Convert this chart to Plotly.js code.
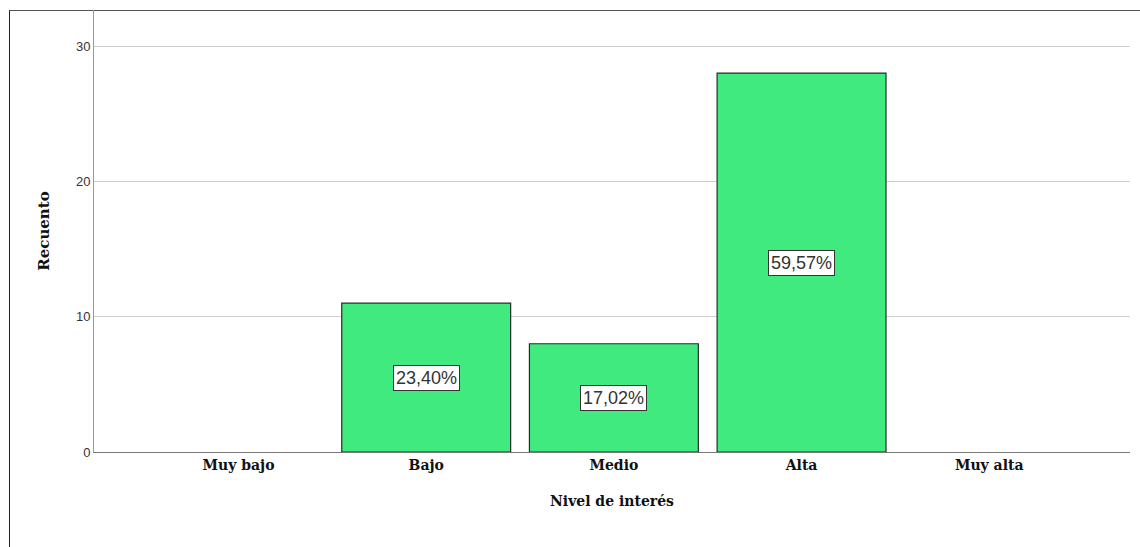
<!DOCTYPE html>
<html>
<head>
<meta charset="utf-8">
<script src="https://cdn.plot.ly/plotly-3.0.1.min.js"></script>
<style>
html,body{margin:0;padding:0;background:#fff;}
#frame{position:absolute;left:9px;top:10px;width:1131px;height:537px;border-left:1px solid #222;border-top:1px solid #555;}
#chart{position:absolute;left:0;top:0;width:1140px;height:547px;}
</style>
</head>
<body>
<div id="frame"></div>
<div id="chart"></div>
<script>
const categories = ['Muy bajo', 'Bajo', 'Medio', 'Alta', 'Muy alta'];
const counts = [0, 11, 8, 28, 0];
const pctLabels = ['', '23,40%', '17,02%', '59,57%', ''];
const yTicks = [0, 10, 20, 30];

const annotations = [];
categories.forEach((c, i) => {
  if (pctLabels[i]) {
    annotations.push({
      x: c, y: counts[i] / 2, xref: 'x', yref: 'y',
      text: pctLabels[i], showarrow: false,
      font: {family: 'Liberation Sans, Arial, sans-serif', size: 18, color: '#333'},
      bgcolor: '#ffffff', bordercolor: '#333', borderwidth: 1, borderpad: 2
    });
  }
});

const trace = {
  type: 'bar', x: categories, y: counts,
  marker: {color: '#41ea7f', line: {color: '#2a2a2a', width: counts.map(v => v > 0 ? 1.2 : 0)}},
  hoverinfo: 'none'
};

const serif = 'DejaVu Serif, serif';

const layout = {
  width: 1140, height: 547,
  margin: {l: 94, r: 10, t: 10, b: 95},
  paper_bgcolor: 'rgba(0,0,0,0)', plot_bgcolor: 'rgba(0,0,0,0)',
  bargap: 0.1,
  showlegend: false,
  xaxis: {
    type: 'category', range: [-0.77, 4.75],
    showgrid: false, showline: true, linecolor: '#777', linewidth: 1,
    ticks: '', zeroline: false,
    tickfont: {family: serif, size: 14, color: '#111', weight: 'bold'},
    title: {text: '<b>Nivel de interés</b>', font: {family: serif, size: 14, color: '#111'}, standoff: 24}
  },
  yaxis: {
    range: [0, 32.66], tickvals: yTicks, ticktext: yTicks.map(String),
    showgrid: true, gridcolor: '#cfcfcf', gridwidth: 1,
    showline: true, linecolor: '#999', linewidth: 1, zeroline: false,
    ticks: '', ticklen: 0,
    tickfont: {family: 'Liberation Sans, Arial, sans-serif', size: 13, color: '#333'},
    title: {text: '<b>Recuento</b>', font: {family: serif, size: 15, color: '#111'}, standoff: 22}
  },
  annotations: annotations
};

Plotly.newPlot('chart', [trace], layout, {displayModeBar: false, staticPlot: true});
</script>
</body>
</html>
